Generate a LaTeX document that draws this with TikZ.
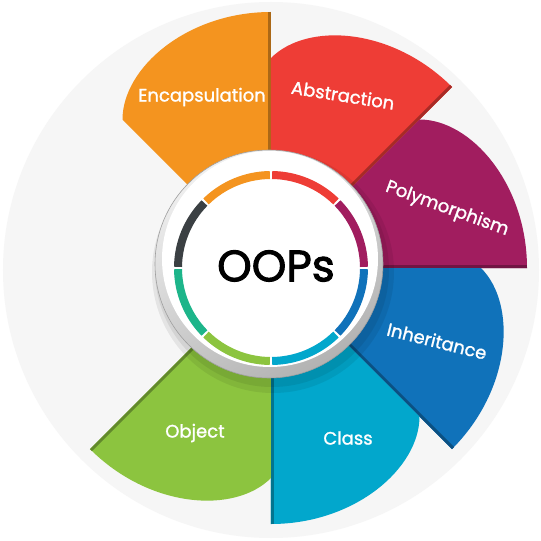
\documentclass[tikz,border=0pt]{standalone}
\usepackage{fontspec}
\setmainfont{Poppins}
\newfontfamily\lblfont[FakeBold=1.3]{Poppins}
\newfontfamily\hubfont[FakeBold=2.2]{Poppins}
\usepackage{tikz}
\usetikzlibrary{calc}
\usepackage{xcolor}
\definecolor{EncOrange}{HTML}{F4941F}
\definecolor{AbsRed}{HTML}{EE3D36}
\definecolor{PolyPurple}{HTML}{A11D5F}
\definecolor{InhBlue}{HTML}{1072BA}
\definecolor{ClsCyan}{HTML}{02A7CC}
\definecolor{ObjGreen}{HTML}{8CC43F}
\definecolor{RingTeal}{HTML}{1DB58A}
\definecolor{RingDark}{HTML}{3B4043}
\definecolor{BackGrey}{HTML}{F6F6F6}
\tikzset{
    lbl_w/.style={text=white, font=\lblfont\fontsize{18}{21}\selectfont, inner sep=0pt},
    lbl_big/.style={text=black, font=\hubfont\fontsize{44}{50}\selectfont, inner sep=0pt},
    ring_seg/.style={line width=8pt},
    fold_line/.style={line width=6pt},
}
% one petal: angle of its clockwise edge, fill colour
\newcommand{\oopspetal}[2]{%
  \begin{scope}[rotate=#1]
    \fill[#2] (0,0) -- (0:256) .. controls (256,84) and (200,148.5) .. (45:210) -- cycle;
    \begin{scope}
      \clip (0,0) -- (0:256) .. controls (256,84) and (200,148.5) .. (45:210) -- cycle;
      \draw[fold_line, #2!70!black] (0,0) -- (0:262);
    \end{scope}
  \end{scope}
}

\begin{document}
\begin{tikzpicture}[x=1pt, y=1pt]
\useasboundingbox (-271,-273) rectangle (270,268);
\fill[white] (-271,-273) rectangle (270,268);
% backdrop
\fill[BackGrey] (0,-2) circle[radius=268];

% petals
\oopspetal{90}{EncOrange}
\oopspetal{45}{AbsRed}
\oopspetal{0}{PolyPurple}
\oopspetal{-45}{InhBlue}
\oopspetal{-90}{ClsCyan}
\oopspetal{-135}{ObjGreen}

% hub shadow
\fill[black, opacity=0.07] (2,-4) circle[radius=121];
\fill[black, opacity=0.07] (1,-2) circle[radius=117];
% hub
\shade[top color=gray!12, bottom color=gray!60, shading angle=30, draw=gray!75, line width=0.6pt] (-2,4) circle[radius=114];
\fill[white] (-1,9) circle[radius=108];

% coloured ring
\foreach \a/\c in {90/EncOrange, 135/RingDark, 180/RingTeal, 225/ObjGreen, 270/ClsCyan, 315/InhBlue, 0/PolyPurple, 45/AbsRed}
  \draw[ring_seg, \c] ({\a+0.7}:93) arc[start angle={\a+0.7}, end angle={\a+44.3}, radius=93];

% labels
\node[lbl_big] (oops) at (5,2) {OOPs};
\node[lbl_w] (enc) at (-69,171) {Encapsulation};
\node[lbl_w, rotate=-9] (abs) at (72,173) {Abstraction};
\node[lbl_w, rotate=-20] (poly) at (176,59) {Polymorphism};
\node[lbl_w, rotate=-14] (inh) at (166,-73) {Inheritance};
\node[lbl_w] (cls) at (77,-170) {Class};
\node[lbl_w] (obj) at (-76,-165) {Object};
\end{tikzpicture}
\end{document}
